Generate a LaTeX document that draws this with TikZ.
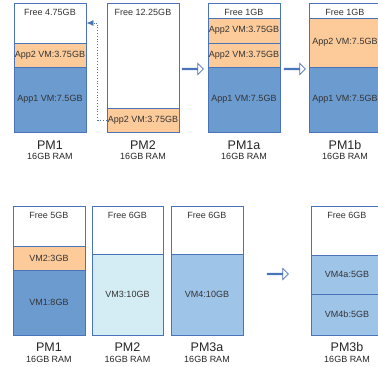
\documentclass[tikz,border=0pt]{standalone}
\usepackage{fontspec}
\setmainfont{Liberation Sans}
\usetikzlibrary{shapes.arrows,arrows.meta}
\definecolor{edgeblue}{HTML}{4A74B9}
\definecolor{peach}{HTML}{FDCB9A}
\definecolor{appblue}{HTML}{6C9BD0}
\definecolor{paleblue}{HTML}{D4EDF4}
\definecolor{midblue}{HTML}{9EC4E8}
\tikzset{
  seg/.style={draw=edgeblue, line width=0.9pt, minimum width=72pt, inner sep=0pt, font=\fontsize{9}{10}\selectfont, text=black!80},
  freetxt/.style={anchor=north, yshift=-3pt, inner sep=3pt, font=\fontsize{9}{10}\selectfont, text=black!80},
  pmname/.style={font=\fontsize{12.5}{14}\selectfont, text=black!85},
  ramtxt/.style={font=\fontsize{9}{10}\selectfont, text=black!85},
  hollow/.style={single arrow, draw=edgeblue, fill=white, line width=0.8pt, minimum height=21pt, minimum width=11pt, single arrow head extend=3pt, inner sep=0pt}
}
\begin{document}
\begin{tikzpicture}[x=1pt,y=-1pt]
\clip (0,0) rectangle (378,367);
\fill[white] (0,0) rectangle (378,367);
\node[seg, minimum height=40pt] (aFree) at (50,23) {};
\node[freetxt] at (aFree.north) {Free 4.75GB};
\node[seg, fill=peach, minimum height=24pt] (aApp2) at (50,55) {App2 VM:3.75GB};
\node[seg, fill=appblue, minimum height=65pt] (aApp1) at (50,99.5) {App1 VM:7.5GB};
\node[pmname] (aName) at (50,145) {PM1};
\node[ramtxt] (aRam) at (50,156.5) {16GB RAM};
\node[seg, minimum height=105pt] (bFree) at (143,55.5) {};
\node[freetxt] at (bFree.north) {Free 12.25GB};
\node[seg, fill=peach, minimum height=24pt] (bApp2) at (143,120) {App2 VM:3.75GB};
\node[pmname] (bName) at (143,145) {PM2};
\node[ramtxt] (bRam) at (143,156.5) {16GB RAM};
\draw[edgeblue, line width=0.8pt, dotted, -{Latex[length=7pt,width=6pt]}] (bApp2.west) -- ++(-9,0) |- (aFree.east);
\node[hollow] (arrOne) at (192.5,69) {};
\node[seg, minimum height=15pt] (cFree) at (244,10.5) {};
\node[freetxt] at (cFree.north) {Free 1GB};
\node[seg, fill=peach, minimum height=25pt] (cApp2a) at (244,30.5) {App2 VM:3.75GB};
\node[seg, fill=peach, minimum height=24pt] (cApp2b) at (244,55) {App2 VM:3.75GB};
\node[seg, fill=appblue, minimum height=65pt] (cApp1) at (244,99.5) {App1 VM:7.5GB};
\node[pmname] (cName) at (244,145) {PM1a};
\node[ramtxt] (cRam) at (244,156.5) {16GB RAM};
\node[hollow] (arrTwo) at (294.5,69) {};
\node[seg, minimum height=15pt] (dFree) at (345,10.5) {};
\node[freetxt] at (dFree.north) {Free 1GB};
\node[seg, fill=peach, minimum height=49pt] (dApp2) at (345,42.5) {App2 VM:7.5GB};
\node[seg, fill=appblue, minimum height=65pt] (dApp1) at (345,99.5) {App1 VM:7.5GB};
\node[pmname] (dName) at (345,145) {PM1b};
\node[ramtxt] (dRam) at (345,156.5) {16GB RAM};
\node[seg, minimum height=40pt] (eFree) at (49,226) {};
\node[freetxt] at (eFree.north) {Free 5GB};
\node[seg, fill=peach, minimum height=24pt] (eVmTwo) at (49,258) {VM2:3GB};
\node[seg, fill=appblue, minimum height=65pt] (eVmOne) at (49,302.5) {VM1:8GB};
\node[pmname] (eName) at (49,347) {PM1};
\node[ramtxt] (eRam) at (49,359) {16GB RAM};
\node[seg, minimum width=71pt, minimum height=48pt] (fFree) at (127.5,230) {};
\node[freetxt] at (fFree.north) {Free 6GB};
\node[seg, minimum width=71pt, fill=paleblue, minimum height=81pt] (fVmThree) at (127.5,294.5) {VM3:10GB};
\node[pmname] (fName) at (127.5,347) {PM2};
\node[ramtxt] (fRam) at (127.5,359) {16GB RAM};
\node[seg, minimum height=48pt] (gFree) at (207,230) {};
\node[freetxt] at (gFree.north) {Free 6GB};
\node[seg, fill=midblue, minimum height=81pt] (gVmFour) at (207,294.5) {VM4:10GB};
\node[pmname] (gName) at (207,347) {PM3a};
\node[ramtxt] (gRam) at (207,359) {16GB RAM};
\node[hollow] (arrThree) at (277.5,274) {};
\node[seg, minimum height=49pt] (hFree) at (347,230.5) {};
\node[freetxt] at (hFree.north) {Free 6GB};
\node[seg, fill=midblue, minimum height=39pt] (hVmFourA) at (347,274.5) {VM4a:5GB};
\node[seg, fill=midblue, minimum height=41pt] (hVmFourB) at (347,314.5) {VM4b:5GB};
\node[pmname] (hName) at (347,347) {PM3b};
\node[ramtxt] (hRam) at (347,359) {16GB RAM};
\end{tikzpicture}
\end{document}
